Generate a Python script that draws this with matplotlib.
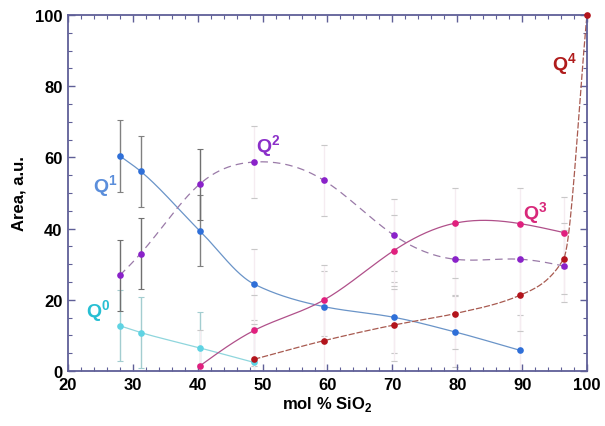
import numpy as np
import matplotlib
matplotlib.use("Agg")
import matplotlib.pyplot as plt
from matplotlib.ticker import MultipleLocator

plt.rcParams['font.family'] = ['Liberation Sans', 'DejaVu Sans']
plt.rcParams['mathtext.fontset'] = 'custom'
plt.rcParams['mathtext.rm'] = 'Liberation Sans'
plt.rcParams['mathtext.bf'] = 'Liberation Sans:bold'

# ---- data ----
x_q0 = [28.0, 31.2, 40.3, 48.7]
y_q0 = [12.7, 10.8, 6.5, 2.4]
x_q1 = [28.0, 31.2, 40.3, 48.7, 59.4, 70.2, 79.6, 89.7]
y_q1 = [60.4, 56.1, 39.4, 24.4, 18.1, 15.1, 11.0, 5.8]
x_q2 = [28.0, 31.2, 40.3, 48.7, 59.4, 70.2, 79.6, 89.7, 96.4]
y_q2 = [26.9, 33.0, 52.5, 58.7, 53.6, 38.2, 31.4, 31.4, 29.5]
x_q3 = [40.3, 48.7, 59.4, 70.2, 79.6, 89.7, 96.4]
y_q3 = [1.4, 11.4, 19.9, 33.8, 41.5, 41.4, 38.9]
x_q4 = [48.7, 59.4, 70.2, 79.6, 89.7, 96.4, 100.0]
y_q4 = [3.3, 8.5, 12.9, 16.1, 21.3, 31.5, 100.0]
err_q0 = [10, 10, 10, 10]
err_q1 = [10, 10, 10, 10, 10, 10, 10, 10]
err_q2 = [10, 10, 10, 10, 10, 10, 10, 10, 10]
err_q3 = [10, 10, 10, 10, 10, 10, 10]
err_q4 = [10, 10, 10, 10, 10, 10, 0]
labels = [r'Q$^{\mathbf{0}}$', r'Q$^{\mathbf{1}}$', r'Q$^{\mathbf{2}}$',
          r'Q$^{\mathbf{3}}$', r'Q$^{\mathbf{4}}$']


def natural_spline(x, y, n=300):
    x = np.asarray(x, float); y = np.asarray(y, float)
    k = len(x)
    h = np.diff(x)
    A = np.zeros((k, k)); b = np.zeros(k)
    A[0, 0] = 1; A[-1, -1] = 1
    for i in range(1, k - 1):
        A[i, i - 1] = h[i - 1]
        A[i, i] = 2 * (h[i - 1] + h[i])
        A[i, i + 1] = h[i]
        b[i] = 3 * ((y[i + 1] - y[i]) / h[i] - (y[i] - y[i - 1]) / h[i - 1])
    c = np.linalg.solve(A, b)
    xs = np.linspace(x[0], x[-1], n)
    idx = np.clip(np.searchsorted(x, xs) - 1, 0, k - 2)
    bb = (y[1:] - y[:-1]) / h - h * (2 * c[:-1] + c[1:]) / 3
    d = (c[1:] - c[:-1]) / (3 * h)
    dx = xs - x[idx]
    ys = y[idx] + bb[idx] * dx + c[idx] * dx ** 2 + d[idx] * dx ** 3
    return xs, ys


def pchip(x, y, n=300):
    x = np.asarray(x, float); y = np.asarray(y, float)
    h = np.diff(x); delta = np.diff(y) / h
    k = len(x)
    m = np.zeros(k)
    for i in range(1, k - 1):
        if delta[i - 1] * delta[i] > 0:
            w1 = 2 * h[i] + h[i - 1]; w2 = h[i] + 2 * h[i - 1]
            m[i] = (w1 + w2) / (w1 / delta[i - 1] + w2 / delta[i])
    m[0] = delta[0]; m[-1] = delta[-1]
    xs = np.linspace(x[0], x[-1], n)
    idx = np.clip(np.searchsorted(x, xs) - 1, 0, k - 2)
    t = (xs - x[idx]) / h[idx]
    h00 = 2 * t ** 3 - 3 * t ** 2 + 1; h10 = t ** 3 - 2 * t ** 2 + t
    h01 = -2 * t ** 3 + 3 * t ** 2; h11 = t ** 3 - t ** 2
    ys = h00 * y[idx] + h10 * h[idx] * m[idx] + h01 * y[idx + 1] + h11 * h[idx] * m[idx + 1]
    return xs, ys


fig = plt.figure(figsize=(6.05, 4.27), dpi=100)
ax = fig.add_axes([0.1124, 0.1288, 0.8578, 0.8337])

faint = '#f5ecf1'
series = [
    (x_q0, y_q0, err_q0, '#5fd3e3', '#8fd6dd', '-', ['#a3cdd0'] * 3 + ['#dff2f4'], pchip),
    (x_q1, y_q1, err_q1, '#2f6fd8', '#6a94c8', '-', ['#808080'] * 3 + [faint] * 5, pchip),
    (x_q2, y_q2, err_q2, '#8a22c9', '#9a7aa8', (0, (6, 4)), ['#707070'] * 3 + [faint] * 6, natural_spline),
    (x_q3, y_q3, err_q3, '#e0207e', '#b0508a', '-', [faint] * 7, natural_spline),
    (x_q4, y_q4, err_q4, '#b3141c', '#a85a50', (0, (5, 1.5)), [faint] * 7, pchip),
]

for xs_, ys_, er, mc, lc, ls, ecs, fn in series:
    for xi, yi, ei, ec in zip(xs_, ys_, er, ecs):
        if ei > 0:
            ax.errorbar([xi], [yi], yerr=[ei], fmt='none', ecolor=ec, elinewidth=1.0,
                        capsize=2.5, capthick=0.8, zorder=1)
            if ec == faint:
                ax.plot([xi, xi], [yi - ei, yi + ei], ls='none', marker='_', ms=5,
                        mew=0.8, color='#c8c8c8', zorder=1)

for xs_, ys_, er, mc, lc, ls, ecs, fn in series:
    sx, sy = fn(xs_, ys_)
    ax.plot(sx, sy, color=lc, lw=0.9, ls=ls, zorder=2)
    ax.plot(xs_, ys_, 'o', color=mc, ms=4.8, mec='none', zorder=3, clip_on=False)

lab_pos = [(24.6, 16.9), (25.7, 52.0), (50.8, 63.2), (92.0, 44.4), (96.6, 86.2)]
lab_col = ['#27bfd3', '#5b8edb', '#8b2fc9', '#d8287a', '#b01c1c']
for t, (lx, ly), c in zip(labels, lab_pos, lab_col):
    ax.text(lx, ly, t, color=c, fontsize=14, fontweight='bold', ha='center', va='center')

ax.set_xlim(20, 100)
ax.set_ylim(0, 100)
ax.xaxis.set_major_locator(MultipleLocator(10))
ax.xaxis.set_minor_locator(MultipleLocator(2))
ax.yaxis.set_major_locator(MultipleLocator(20))
ax.yaxis.set_minor_locator(MultipleLocator(5))
spc = '#5f5f97'
for s in ax.spines.values():
    s.set_color(spc)
    s.set_linewidth(1.3)
ax.tick_params(which='both', direction='in', top=True, right=True, color=spc)
ax.tick_params(which='major', length=5, width=1.0, labelsize=12, pad=4)
ax.tick_params(which='minor', length=3, width=0.8)
for lbl in ax.get_xticklabels() + ax.get_yticklabels():
    lbl.set_fontweight('bold')

ax.set_xlabel(r'mol % SiO$_\mathbf{2}$', fontsize=12, fontweight='bold', labelpad=2)
ax.set_ylabel('Area, a.u.', fontsize=12, fontweight='bold', labelpad=6)

fig.savefig('out.png', dpi=100)
